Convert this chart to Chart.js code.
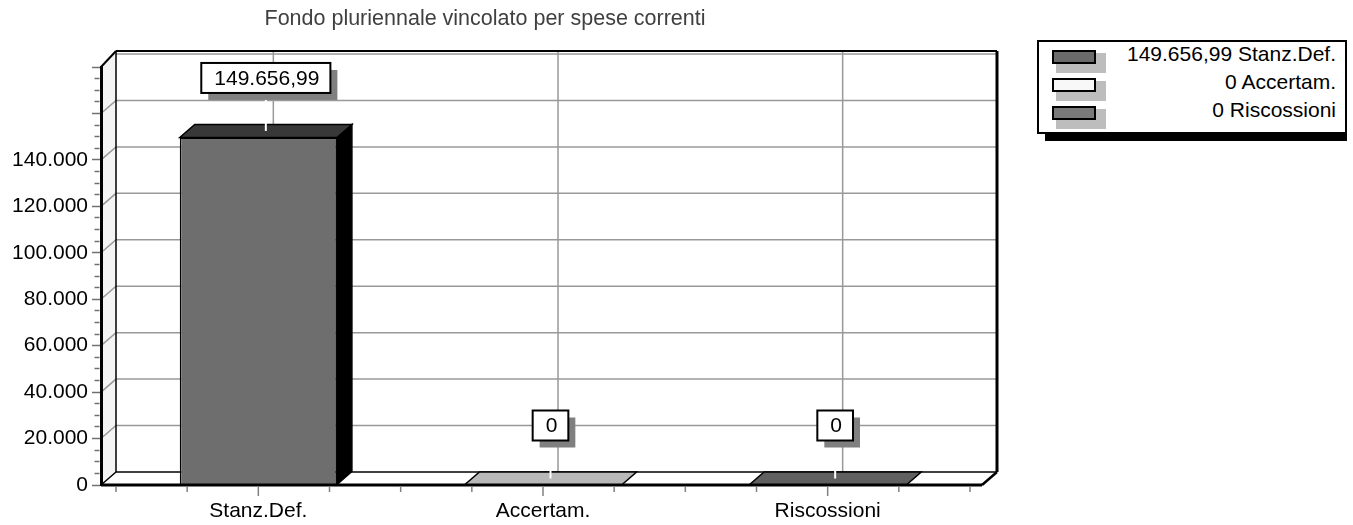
<!DOCTYPE html>
<html>
<head>
<meta charset="utf-8">
<script src="https://cdn.jsdelivr.net/npm/chart.js@4"></script>
<style>
  body { margin: 0; background: #fff; font-family: 'Liberation Sans', Arial, sans-serif; }
  #wrap { position: relative; width: 1353px; height: 525px; }
  #chart { position: absolute; left: 0; top: 0; }
  .abs { position: absolute; box-sizing: border-box; }
</style>
</head>
<body>
<div id="wrap">
  <canvas id="chart" width="1001" height="525"></canvas>
  <div id="legend"></div>
</div>
<script>
const chartTitle = 'Fondo pluriennale vincolato per spese correnti';
const categories = ['Stanz.Def.', 'Accertam.', 'Riscossioni'];
const values = [149656.99, 0, 0];
const yMax = 180000;
const yStep = 20000;
const yMinorStep = 5000;
const yLastLabel = 140000;

const frontColors = ['#6e6e6e', '#f4f4f4', '#777777'];
const topColors = ['#383838', '#b8b8b8', '#606060'];
const legendColors = ['#6a6a6a', '#f8f8f8', '#7a7a7a'];
const GRID = '#999999';
const DX = 15, DY = -13;
const FONT = "'Liberation Sans', Arial, sans-serif";

// italian number format: 149.656,99
function fmt(v, dec) {
  const [i, d] = Math.abs(v).toFixed(dec).split('.');
  const s = i.replace(/\B(?=(\d{3})+(?!\d))/g, '.');
  return d ? s + ',' + d : s;
}
const valueText = v => (v ? fmt(v, 2) : '0');

function poly(ctx, pts, fill, stroke, lw) {
  ctx.beginPath();
  pts.forEach(([px, py], i) => (i ? ctx.lineTo(px, py) : ctx.moveTo(px, py)));
  ctx.closePath();
  if (fill) { ctx.fillStyle = fill; ctx.fill(); }
  if (stroke) { ctx.strokeStyle = stroke; ctx.lineWidth = lw || 1.5; ctx.stroke(); }
}
function line(ctx, x1, y1, x2, y2, color, lw) {
  ctx.beginPath();
  ctx.moveTo(x1, y1);
  ctx.lineTo(x2, y2);
  ctx.strokeStyle = color;
  ctx.lineWidth = lw;
  ctx.stroke();
}
function frame(chart) {
  const a = chart.chartArea;
  return {
    fl: a.left - 15, bl: a.left, fr: a.right + 12, br: a.right + 27,
    ft: a.top, bt: a.top - 16, fb: a.bottom, bb: a.bottom + DY,
  };
}

// pseudo 3d box: walls, floor, back grid, bar faces and value boxes
const box3d = {
  id: 'box3d',
  beforeDraw(chart) {
    const { ctx, scales: { x, y } } = chart;
    const f = frame(chart);
    ctx.save();
    poly(ctx, [[f.fl, f.ft], [f.bl, f.bt], [f.bl, f.bb], [f.fl, f.fb]], '#f4f4f4');

    y.ticks.forEach((t) => {
      if (t.value === 0 || t.value % yStep) return;
      const py = y.getPixelForValue(t.value);
      ctx.beginPath();
      if (t.value < yMax) {
        ctx.moveTo(f.fl, py);
        ctx.lineTo(f.bl, py + DY);
      } else {
        ctx.moveTo(f.bl, py + DY);
      }
      ctx.lineTo(f.br, py + DY);
      ctx.strokeStyle = GRID;
      ctx.lineWidth = 1.5;
      ctx.stroke();
    });
    categories.forEach((c, i) => {
      const px = x.getPixelForValue(i) + DX;
      line(ctx, px, f.bt, px, f.bb, GRID, 1.5);
    });

    line(ctx, f.bl, f.bt, f.bl, f.bb, '#000', 1.5);
    line(ctx, f.bl, f.bb, f.br, f.bb, '#000', 1.5);
    line(ctx, f.fl, f.fb, f.bl, f.bb, '#000', 1.5);
    line(ctx, f.fl, f.ft, f.bl, f.bt, '#000', 2);
    line(ctx, f.bl, f.bt, f.br, f.bt, '#000', 2);
    line(ctx, f.br, f.bt, f.br, f.bb, '#000', 3);
    line(ctx, f.br, f.bb, f.fr, f.fb, '#000', 2.5);
    ctx.restore();
  },
  afterDatasetsDraw(chart) {
    const { ctx, scales: { x } } = chart;
    const f = frame(chart);
    const meta = chart.getDatasetMeta(0);
    const bars = meta.data.map((bar) => bar.getProps(['x', 'y', 'base', 'width'], true));
    ctx.save();

    bars.forEach((b, i) => {
      const l = b.x - b.width / 2, r = b.x + b.width / 2;
      if (b.base - b.y > 0.5) {
        poly(ctx, [[r, b.y], [r + DX, b.y + DY], [r + DX, b.base + DY], [r, b.base]], '#000', '#000', 1.5);
      }
      poly(ctx, [[l, b.y], [r, b.y], [r + DX, b.y + DY], [l + DX, b.y + DY]], topColors[i], '#000', 1.5);
    });

    line(ctx, f.fl, f.fb, f.fr, f.fb, '#000', 3);

    // quarter ticks under the category axis
    for (let k = 0; k <= categories.length * 4; k++) {
      const px = x.getPixelForValue(-0.5 + k * 0.25);
      line(ctx, px, f.fb + 1.5, px, f.fb + (k % 4 === 2 ? 11 : 7), '#808080', 1.5);
    }

    ctx.font = '21px ' + FONT;
    bars.forEach((b, i) => {
      const text = valueText(chart.data.datasets[0].data[i]);
      const w = ctx.measureText(text).width + 24, h = 30;
      const ax = b.x + DX / 2, ay = b.y + DY / 2;
      const bx = ax - w / 2, by = ay - 38 - h;
      line(ctx, ax, by + h, ax, ay, '#fff', 2);
      ctx.fillStyle = '#808080';
      ctx.fillRect(bx + 7, by + 7, w, h);
      ctx.fillStyle = '#fff';
      ctx.fillRect(bx, by, w, h);
      ctx.strokeStyle = '#000';
      ctx.lineWidth = 2;
      ctx.strokeRect(bx, by, w, h);
      ctx.fillStyle = '#000';
      ctx.textAlign = 'center';
      ctx.textBaseline = 'middle';
      ctx.fillText(text, ax + 1, by + h / 2 + 1);
    });
    ctx.restore();
  },
};

Chart.defaults.font.family = FONT;
Chart.defaults.font.size = 21;
Chart.defaults.color = '#000';

new Chart(document.getElementById('chart'), {
  type: 'bar',
  data: {
    labels: categories,
    datasets: [
      {
        data: values,
        backgroundColor: frontColors,
        borderColor: '#000',
        borderWidth: 1.5,
        barPercentage: 0.552,
        categoryPercentage: 1,
      },
    ],
  },
  options: {
    responsive: false,
    animation: false,
    devicePixelRatio: 1,
    layout: {
      padding: { left: 0, right: 31, top: 0, bottom: 2 },
    },
    scales: {
      x: {
        grid: { display: false, drawTicks: false },
        border: { display: false },
        ticks: { padding: 14, color: '#000', autoSkip: false, maxRotation: 0 },
        afterFit(s) { s.height = 38; },
      },
      y: {
        min: 0,
        max: yMax,
        weight: 10,
        afterFit(s) { s.width = 101; },
        border: { display: true, color: '#000', width: 3 },
        grid: {
          drawOnChartArea: false,
          tickLength: 9,
          tickColor: '#707070',
          tickWidth: 1.5,
          tickBorderDash: (c) => (c.tick && c.tick.value % yStep ? [5, 10] : []),
          tickBorderDashOffset: (c) => (c.tick && c.tick.value % yStep ? 12.5 : 0),
        },
        ticks: {
          stepSize: yMinorStep,
          maxTicksLimit: 100,
          autoSkip: false,
          padding: 4,
          color: '#000',
          callback: (v) => (v % yStep || v > yLastLabel ? '' : fmt(v, 0)),
        },
      },
      ySpacer: {
        type: 'linear',
        axis: 'y',
        position: 'left',
        weight: 0,
        grid: { display: false, drawTicks: false },
        border: { display: false },
        ticks: { display: false },
        afterFit(s) { s.width = 15; },
      },
    },
    plugins: {
      legend: { display: false },
      tooltip: { enabled: false },
      title: {
        display: true,
        text: chartTitle,
        color: '#404040',
        font: { size: 21.5, weight: 'normal', lineHeight: 1.2 },
        padding: { top: 6, bottom: 35.2 },
      },
    },
  },
  plugins: [box3d],
});

// legend box on the right
const legend = document.getElementById('legend');
function add(cls, css, text) {
  const d = document.createElement('div');
  d.className = cls;
  d.style.cssText = css;
  if (text) d.textContent = text;
  legend.appendChild(d);
}
add('abs', 'left:1045px;top:133px;width:302px;height:8px;background:#000;');
add('abs', 'left:1037px;top:40px;width:310px;height:94px;border:2px solid #000;background:#fff;');
categories.forEach((c, i) => {
  const top = 40 + i * 28;
  add('abs', `left:1056px;top:${top + 13}px;width:50px;height:20px;background:#bdbdbd;`);
  add('abs', `left:1052px;top:${top + 10}px;width:44px;height:14px;border:2px solid #000;background:${legendColors[i]};`);
  add('abs', `left:1100px;top:${top}px;width:236px;height:28px;line-height:28px;font-size:21px;text-align:right;white-space:nowrap;color:#000;`,
    valueText(values[i]) + ' ' + c);
});
</script>
</body>
</html>
